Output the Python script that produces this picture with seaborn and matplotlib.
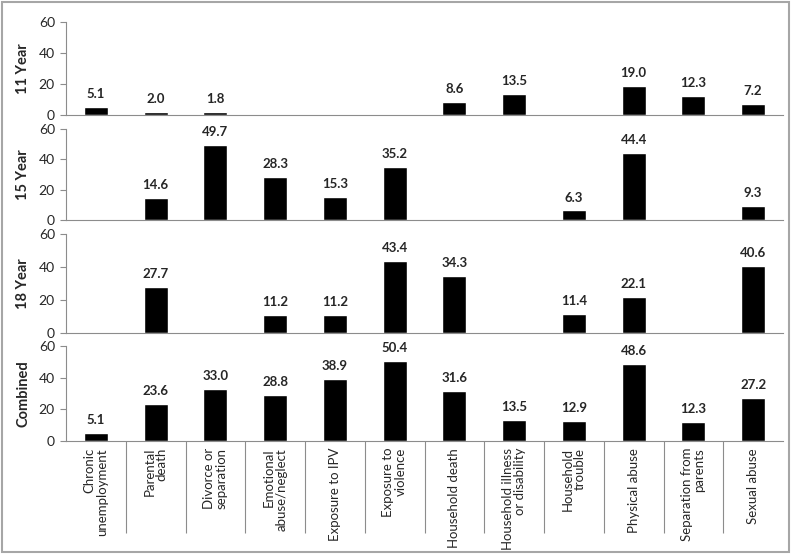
import numpy as np
import pandas as pd
import matplotlib
matplotlib.use("Agg")
import matplotlib.pyplot as plt
import seaborn as sns
from matplotlib.patches import Rectangle

# Categories and per-panel values (NaN = no bar shown)
categories = [
    "Chronic\nunemployment", "Parental\ndeath", "Divorce or\nseparation",
    "Emotional\nabuse/neglect", "Exposure to IPV", "Exposure to\nviolence",
    "Household death", "Household illness\nor disability", "Household\ntrouble",
    "Physical abuse", "Separation from\nparents", "Sexual abuse",
]
panel_names = ["11 Year", "15 Year", "18 Year", "Combined"]

nan = np.nan
year11 = [5.1, 2.0, 1.8, nan, nan, nan, 8.6, 13.5, nan, 19.0, 12.3, 7.2]
year15 = [nan, 14.6, 49.7, 28.3, 15.3, 35.2, nan, nan, 6.3, 44.4, nan, 9.3]
year18 = [nan, 27.7, nan, 11.2, 11.2, 43.4, 34.3, nan, 11.4, 22.1, nan, 40.6]
combined = [5.1, 23.6, 33.0, 28.8, 38.9, 50.4, 31.6, 13.5, 12.9, 48.6, 12.3, 27.2]
yticks = [0, 20, 40, 60]

df = pd.DataFrame({
    "category": categories * 4,
    "panel": np.repeat(panel_names, len(categories)),
    "value": year11 + year15 + year18 + combined,
})

sns.set_theme(style="white")
plt.rcParams["font.family"] = ["Lato", "DejaVu Sans"]

grey = "#8c8c8c"
fig = plt.figure(figsize=(7.98, 5.55), dpi=100)

# panel layout in pixels (top, bottom) of the plotting area
W, H = 798, 555
left_px, right_px = 66, 783
panel_px = [(22, 115), (129, 220), (234, 333), (346, 441)]

axes = []
for (top, bot), name in zip(panel_px, panel_names):
    ax = fig.add_axes([left_px / W, 1 - bot / H, (right_px - left_px) / W, (bot - top) / H])
    sub = df[df["panel"] == name]
    sns.barplot(data=sub, x="category", y="value", order=categories,
                color="black", width=0.4, errorbar=None, saturation=1, ax=ax)
    for cont in ax.containers:
        ax.bar_label(cont, fmt="%.1f", padding=5, fontsize=9.5, fontweight="bold")
    ax.set_ylim(0, 60)
    ax.set_xlim(-0.5, len(categories) - 0.5)
    ax.set_yticks(yticks)
    ax.tick_params(axis="y", length=4, width=0.8, color=grey, pad=4, labelsize=10, left=True)
    ax.set_ylabel(name, fontsize=10.5, fontweight="bold")
    ax.yaxis.set_label_coords(-0.05, 0.5)
    ax.set_xlabel("")
    for side in ["top", "right"]:
        ax.spines[side].set_visible(False)
    for side in ["left", "bottom"]:
        ax.spines[side].set_color(grey)
        ax.spines[side].set_linewidth(0.8)
    ax.patch.set_alpha(0)
    axes.append(ax)

for ax in axes[:-1]:
    ax.set_xticks(range(len(categories)))
    ax.set_xticklabels([])
    ax.tick_params(axis="x", length=0)

last = axes[-1]
last.set_xticks(range(len(categories)))
last.set_xticklabels(categories, rotation=90, fontsize=9.5, va="top", ha="center",
                     multialignment="right", linespacing=1.05)
last.tick_params(axis="x", which="major", length=0, pad=5)
last.set_xticks(np.arange(0.5, len(categories) - 1, 1), minor=True)
last.tick_params(axis="x", which="minor", length=66, width=0.8, color=grey, bottom=True)

# light grey frame around the whole figure
fig.patches.append(Rectangle((2 / W, 3 / H), 787 / W, 550 / H, transform=fig.transFigure,
                             fill=False, edgecolor="#a6a6a6", linewidth=1.5))

fig.savefig("out.png", dpi=100)
